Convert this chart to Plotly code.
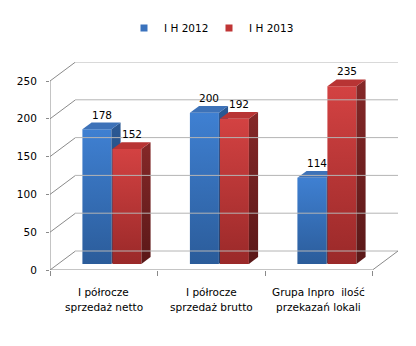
import plotly.graph_objects as go

# ---------------- data ----------------
categories = ["I półrocze\nsprzedaż netto", "I półrocze\nsprzedaż brutto", "Grupa Inpro  ilość\nprzekazań lokali"]
series_names = ["I H 2012", "I H 2013"]
values_2012 = [178, 200, 114]
values_2013 = [152, 192, 235]
y_ticks = [0, 50, 100, 150, 200, 250]

# ---------------- geometry / style ----------------
W, H = 416, 346
L, R, T, B = 50, 18, 62, 76
plot_w = W - L - R
plot_h = H - T - B
depth_px = (25.5, 19.0)
ymax = y_ticks[-1]
ncat = len(categories)
kx = (plot_w - depth_px[0]) / ncat
ky = (plot_h - depth_px[1]) / ymax
DX = depth_px[0] / kx
DY = depth_px[1] / ky
x0, x1 = -0.5, ncat - 0.5

FONT = "DejaVu Sans"
FS = 10.5
GRID = "#b4b4b4"
AX = "#8a8a8a"

bar_w = 29.5 / kx
d_front, d_back = 0.32, 0.68

series = [
    dict(name=series_names[0], vals=values_2012,
         front=("#2b5c9a", "#3f80d2"), side=("#1d3f6d", "#2b5994"), top="#3d72b8", legend="#3a72bd"),
    dict(name=series_names[1], vals=values_2013,
         front=("#9a2929", "#d34242"), side=("#5a1818", "#852828"), top="#b83434", legend="#c03535"),
]

fig = go.Figure()
shapes = []

# back wall gridlines + diagonals to the front axis
for v in y_ticks:
    shapes.append(dict(type="line", xref="x", yref="y", x0=x0, y0=v, x1=x0 + DX, y1=v + DY,
                       line=dict(color=AX, width=1)))
    shapes.append(dict(type="line", xref="x", yref="y", x0=x0 + DX, y0=v + DY, x1=x1 + DX, y1=v + DY,
                       line=dict(color=GRID, width=1)))
# front vertical axis
shapes.append(dict(type="line", xref="x", yref="y", x0=x0, y0=0, x1=x0, y1=ymax,
                   line=dict(color=AX, width=1)))
# floor front edge and right diagonal
shapes.append(dict(type="line", xref="x", yref="y", x0=x0, y0=0, x1=x1, y1=0,
                   line=dict(color=AX, width=1)))
shapes.append(dict(type="line", xref="x", yref="y", x0=x1, y0=0, x1=x1 + DX, y1=DY,
                   line=dict(color=AX, width=1)))


def face(xs, ys, colors, vertical=True):
    xs = list(xs) + [xs[0]]
    ys = list(ys) + [ys[0]]
    if vertical:
        fg = dict(type="vertical", colorscale=[[0, colors[0]], [1, colors[1]]])
        fig.add_trace(go.Scatter(x=xs, y=ys, mode="lines", fill="toself", fillgradient=fg,
                                 line=dict(width=0), hoverinfo="skip", showlegend=False))
    else:
        fig.add_trace(go.Scatter(x=xs, y=ys, mode="lines", fill="toself", fillcolor=colors,
                                 line=dict(width=0), hoverinfo="skip", showlegend=False))


annotations = []
fx, fy = d_front * DX, d_front * DY
bx, by = d_back * DX, d_back * DY
for i in range(ncat):
    for s, ser in enumerate(series):
        v = ser["vals"][i]
        xl = i - bar_w + s * bar_w + (0.5 / kx if s else 0)
        xr = xl + bar_w - (0.5 / kx)
        # front face
        face([xl + fx, xr + fx, xr + fx, xl + fx], [fy, fy, v + fy, v + fy], ser["front"])
        # side face
        face([xr + fx, xr + bx, xr + bx, xr + fx], [fy, by, v + by, v + fy], ser["side"])
        # top face
        face([xl + fx, xr + fx, xr + bx, xl + bx], [v + fy, v + fy, v + by, v + by], ser["top"], vertical=False)
        annotations.append(dict(x=(xl + xr) / 2 + fx + (bx - fx) / 2, y=v + by, xref="x", yref="y",
                                text=str(v), showarrow=False, yanchor="bottom", yshift=0,
                                font=dict(family=FONT, size=FS, color="#000000")))

# category labels (two lines each)
for i, c in enumerate(categories):
    for j, line in enumerate(c.split("\n")):
        annotations.append(dict(x=i, y=0, xref="x", yref="y", text=line, showarrow=False,
                                yanchor="middle", yshift=-(22 + 15 * j),
                                font=dict(family=FONT, size=FS, color="#000000")))

# legend entries
for ser in series:
    fig.add_trace(go.Scatter(x=[None], y=[None], mode="markers", name=ser["name"],
                             marker=dict(symbol="square", size=7, color=ser["legend"])))

fig.update_layout(
    width=W, height=H,
    margin=dict(l=L, r=R, t=T, b=B),
    paper_bgcolor="white", plot_bgcolor="white",
    font=dict(family=FONT, size=FS, color="#000000"),
    xaxis=dict(range=[x0, x1 + DX], showgrid=False, zeroline=False, showline=False,
               tickvals=[x0 + k for k in range(ncat + 1)], ticks="outside", ticklen=5,
               tickcolor=AX, showticklabels=False, fixedrange=True),
    yaxis=dict(range=[0, ymax + DY], showgrid=False, zeroline=False, showline=False,
               tickvals=y_ticks, ticktext=[str(t) for t in y_ticks], ticks="outside", ticklen=3,
               tickcolor=AX, ticklabelstandoff=7, fixedrange=True),
    shapes=shapes,
    annotations=annotations,
    showlegend=True,
    legend=dict(orientation="h", x=(124 - L) / plot_w, xanchor="left",
                y=(plot_h + T - 28) / plot_h, yanchor="middle",
                entrywidth=40, entrywidthmode="pixels",
                font=dict(family=FONT, size=FS, color="#000000"), bgcolor="rgba(0,0,0,0)"),
)

fig.write_html("out.html")
